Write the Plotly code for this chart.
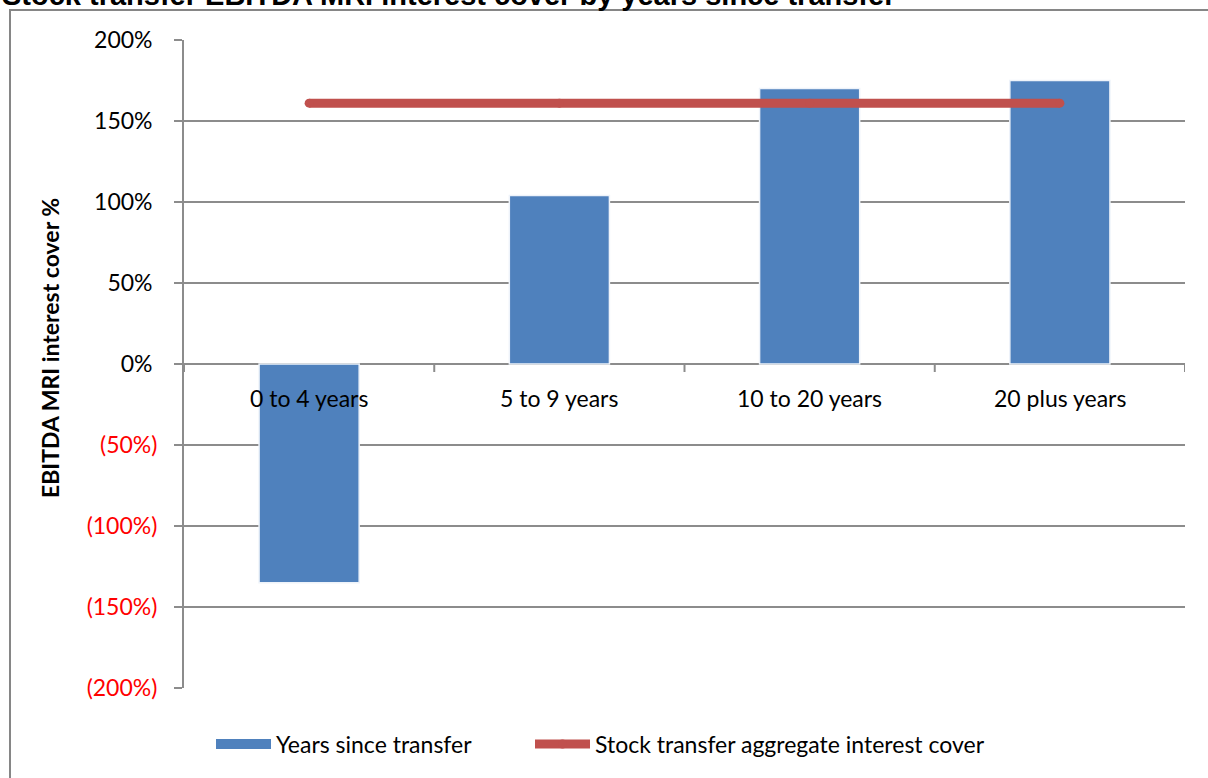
import plotly.graph_objects as go

# Interest cover by time since stock transfer
categories = ["0 to 4 years", "5 to 9 years", "10 to 20 years", "20 plus years"]
cover_by_years = [-1.35, 1.04, 1.70, 1.75]
aggregate_cover = [1.61, 1.61, 1.61, 1.61]

tick_values = [-2.0, -1.5, -1.0, -0.5, 0.0, 0.5, 1.0, 1.5, 2.0]


def pct_label(v):
    if v < 0:
        return '<span style="color:#FF0000">(%d%%)</span>' % round(-v * 100)
    return "%d%%\u2008" % round(v * 100)


tick_text = [pct_label(v) for v in tick_values]

BLUE = "#4F81BD"
RED = "#C0504D"
GRID = "#8C8C8C"
FONT = "Lato, Carlito, Calibri, sans-serif"
TXT = 23

# plot area in pixels: left 184, right 1185, top 40, bottom 688
PL, PW, PT, PH = 184, 1001, 40, 648


def px_x(p):
    return (p - PL) / PW


def px_y(p):
    return (PT + PH - p) / PH


fig = go.Figure()

fig.add_trace(go.Bar(
    x=categories,
    y=cover_by_years,
    name="Years since transfer",
    marker=dict(color=BLUE, line=dict(color="#EEF3FA", width=1.5)),
    width=0.4,
    legendgroup="bars",
    showlegend=False,
))

# wide swatch for the bar series in the legend
fig.add_trace(go.Scatter(
    x=[None], y=[None],
    name="Years since transfer",
    mode="lines",
    line=dict(color=BLUE, width=12),
    legendgroup="bars",
    legend="legend",
    hoverinfo="skip",
))

fig.add_trace(go.Scatter(
    x=categories,
    y=aggregate_cover,
    name="Stock transfer aggregate interest cover",
    mode="lines+markers",
    line=dict(color=RED, width=9),
    marker=dict(color=RED, size=9),
    legend="legend2",
))

# category labels sit just under the zero line
for cat in categories:
    fig.add_annotation(
        x=cat, y=0, xref="x", yref="y", text=cat, showarrow=False,
        yanchor="top", yshift=-18, font=dict(family=FONT, size=TXT, color="#000000"),
    )

# small tick marks on the zero line between categories
for b in [-0.5, 0.5, 1.5, 2.5, 3.5]:
    fig.add_shape(
        type="line", xref="x", yref="y", x0=b, x1=b, y0=0, y1=-8,
        ysizemode="pixel", yanchor=0,
        line=dict(color=GRID, width=2),
    )

# outer chart frame (left and top edges)
fig.add_shape(
    type="rect", xref="paper", yref="paper",
    x0=px_x(10), x1=1.2, y0=-0.5, y1=px_y(10),
    line=dict(color="#868686", width=2), fillcolor="rgba(0,0,0,0)", layer="below",
)

fig.add_annotation(
    xref="paper", yref="paper", x=px_x(0), y=px_y(-5),
    xanchor="left", yanchor="middle", showarrow=False,
    text="<b>Stock transfer EBITDA MRI interest cover by years since transfer</b>",
    font=dict(family="Liberation Sans, Arial, sans-serif", size=29, color="#000000"),
)

# vertical axis title
fig.add_annotation(
    xref="paper", yref="paper", x=px_x(50), y=px_y(348),
    xanchor="center", yanchor="middle", showarrow=False, textangle=-90,
    text="<b>EBITDA MRI interest cover %</b>",
    font=dict(family=FONT, size=23, color="#000000"),
)

legend_style = dict(
    orientation="h", xanchor="left", yanchor="middle", y=px_y(744),
    font=dict(family=FONT, size=TXT, color="#000000"),
    itemwidth=55, bgcolor="rgba(0,0,0,0)",
)

fig.update_layout(
    width=1208, height=778,
    margin=dict(l=PL, r=1208 - PL - PW, t=PT, b=778 - PT - PH),
    paper_bgcolor="white", plot_bgcolor="white",
    font=dict(family=FONT, size=TXT, color="#000000"),
    showlegend=True,
    legend=dict(x=px_x(211), **legend_style),
    legend2=dict(x=px_x(530), **legend_style),
)

fig.update_xaxes(
    range=[-0.5, 3.5], showticklabels=False, showgrid=False,
    showline=False, zeroline=False, ticks="",
)

fig.update_yaxes(
    range=[-2.0, 2.0], tickvals=tick_values, ticktext=tick_text,
    showgrid=True, gridcolor=GRID, gridwidth=2,
    zeroline=True, zerolinecolor=GRID, zerolinewidth=2,
    showline=True, linecolor=GRID, linewidth=2,
    ticks="outside", ticklen=8, tickcolor=GRID, tickwidth=2,
    ticklabelstandoff=12,
    tickfont=dict(family=FONT, size=TXT, color="#000000"),
)

fig.write_html("out.html")
